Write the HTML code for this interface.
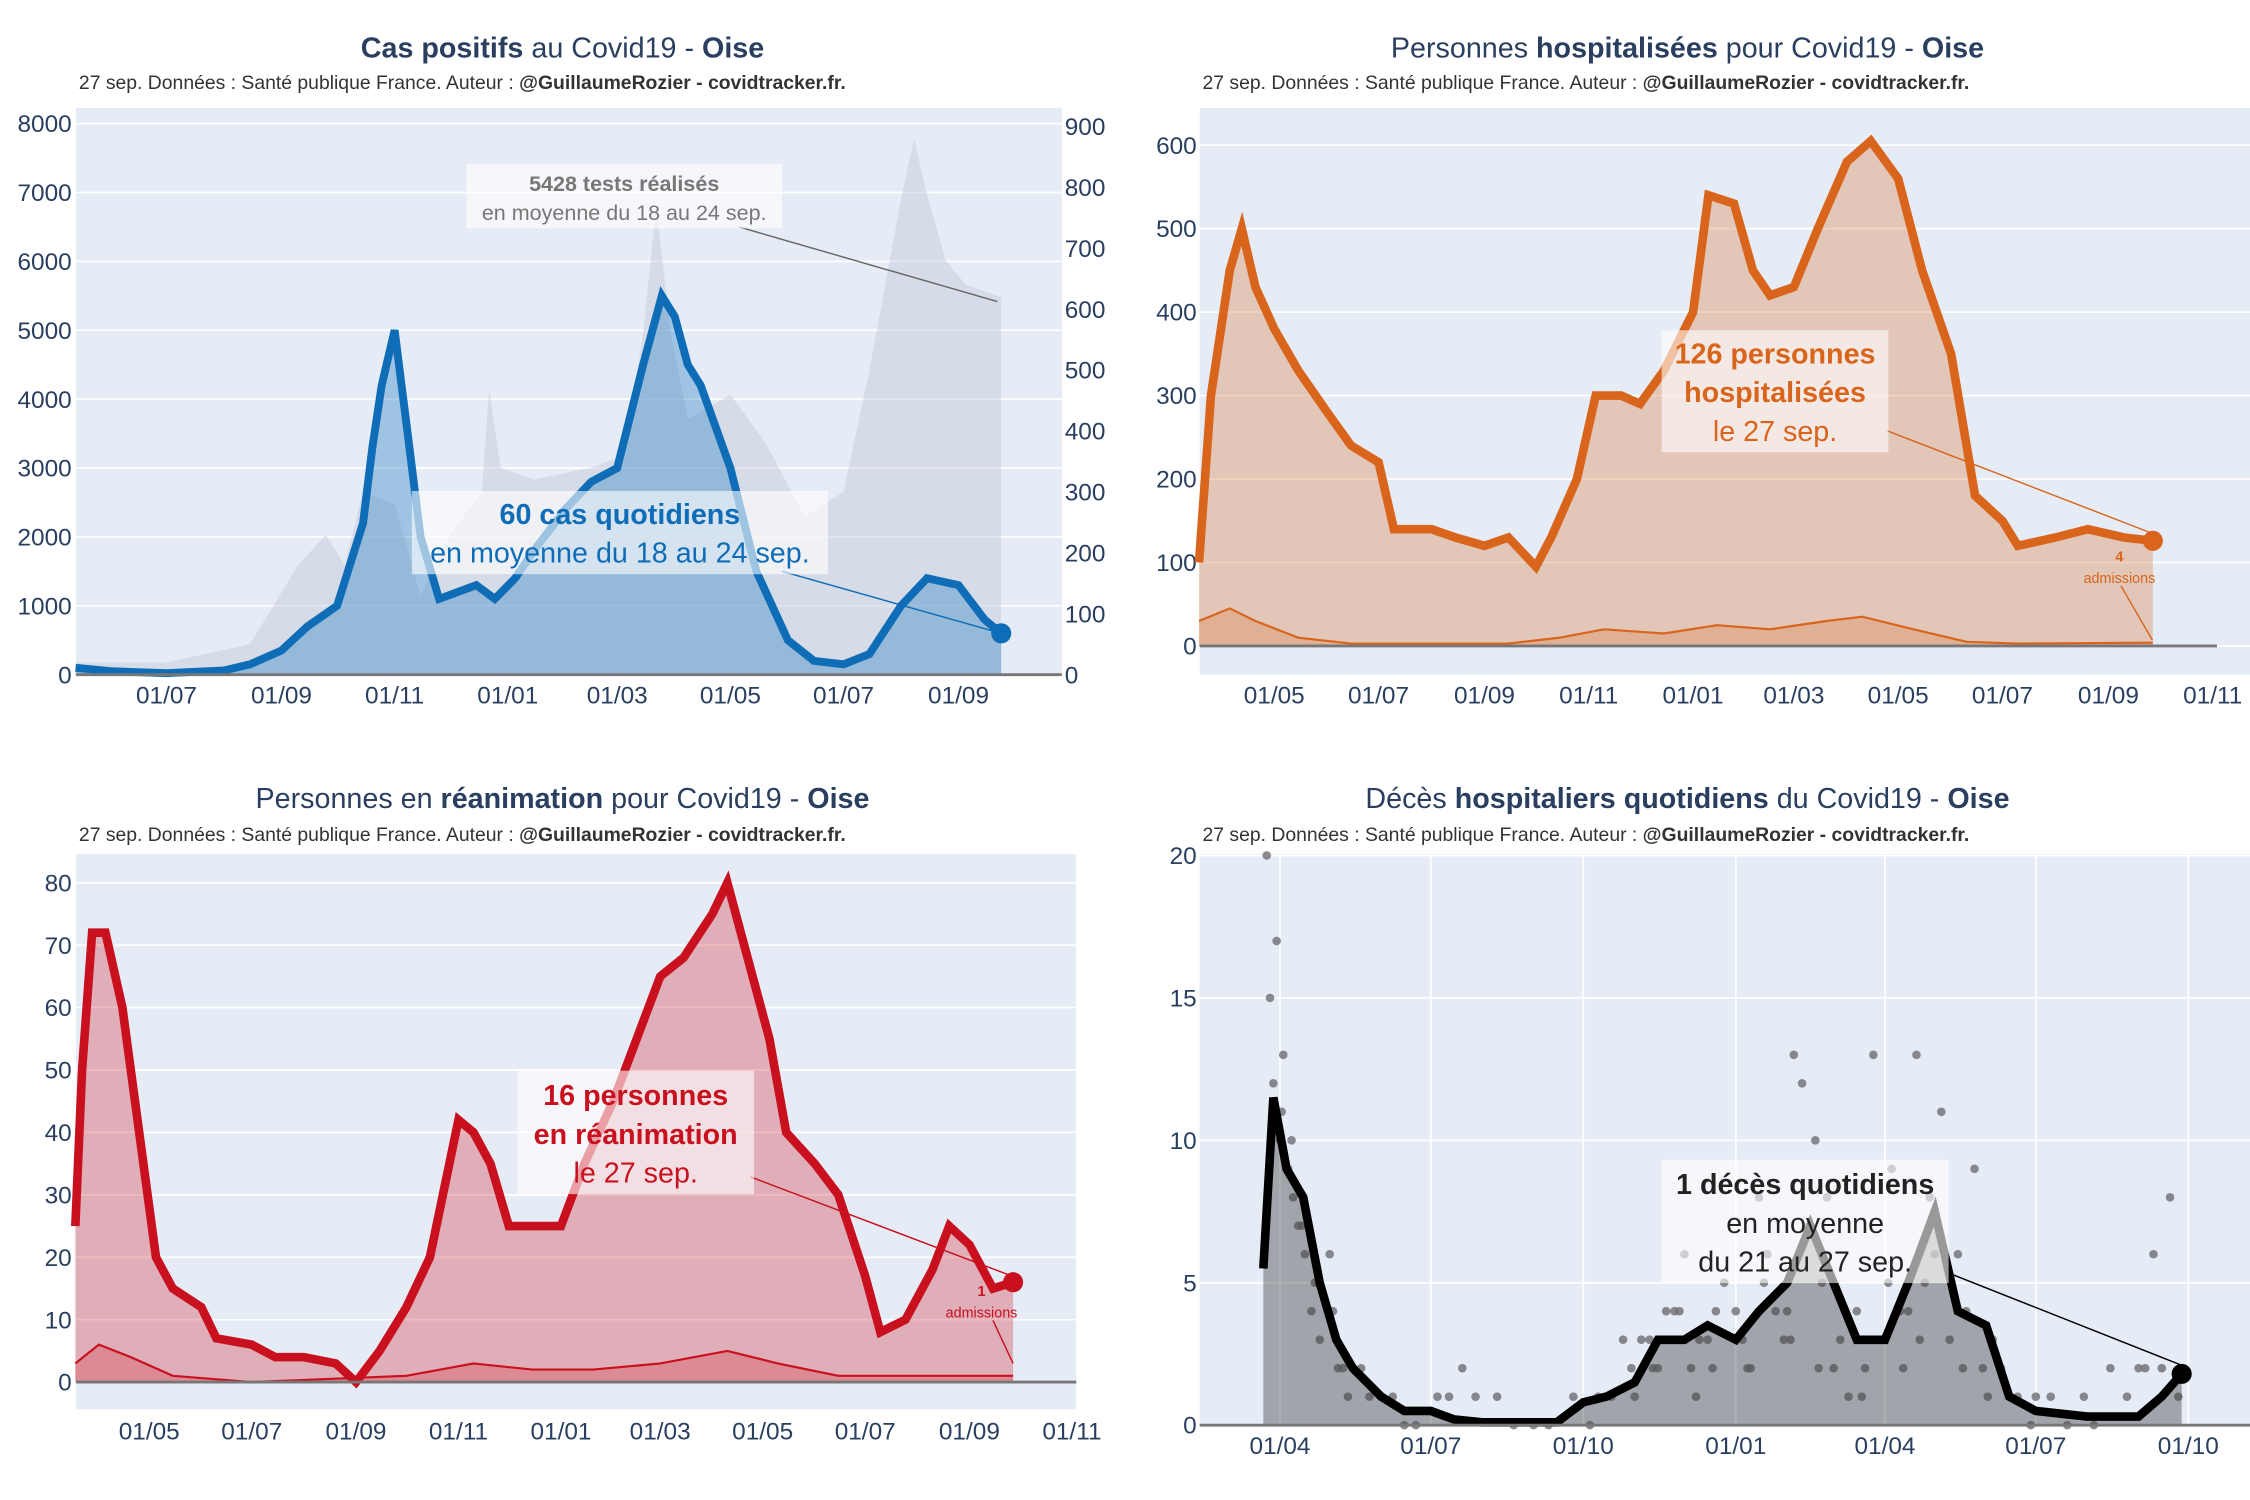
<!DOCTYPE html>
<html><head><meta charset="utf-8"><style>
html,body{margin:0;padding:0;background:#fff;}
svg{display:block;font-family:"Liberation Sans",sans-serif;}
</style></head><body>
<svg id="s" width="2250" height="1500" viewBox="0 0 1568 1045" xmlns="http://www.w3.org/2000/svg"></svg>
<script>
// ---------- DATA ----------
// Chart 1: cases (7-day avg) and tests
const casesDates=['2020-05-13','2020-06-01','2020-07-01','2020-08-01','2020-08-15','2020-09-01','2020-09-15','2020-10-01','2020-10-15','2020-10-20','2020-10-25','2020-11-01','2020-11-08','2020-11-15','2020-11-25','2020-12-05','2020-12-15','2020-12-25','2021-01-05','2021-01-15','2021-02-01','2021-02-15','2021-03-01','2021-03-15','2021-03-25','2021-04-01','2021-04-08','2021-04-15','2021-05-01','2021-05-15','2021-06-01','2021-06-15','2021-07-01','2021-07-15','2021-08-01','2021-08-15','2021-09-01','2021-09-15','2021-09-24'];
const casesValues=[100,50,20,60,150,350,700,1000,2200,3300,4200,5000,3500,2000,1100,1200,1300,1100,1400,1800,2400,2800,3000,4500,5500,5200,4500,4200,3000,1500,500,200,150,300,1000,1400,1300,800,600];
const testsDates=['2020-05-13','2020-07-01','2020-08-15','2020-09-10','2020-09-25','2020-10-05','2020-10-15','2020-11-01','2020-11-15','2020-12-01','2020-12-18','2020-12-22','2020-12-28','2021-01-15','2021-02-15','2021-03-05','2021-03-15','2021-03-22','2021-03-30','2021-04-08','2021-05-01','2021-05-20','2021-06-10','2021-07-01','2021-07-15','2021-08-01','2021-08-08','2021-08-14','2021-08-25','2021-09-05','2021-09-24'];
const testsValues=[20,20,50,180,230,180,300,280,130,230,300,470,340,320,340,360,560,770,560,420,460,380,260,300,500,780,880,800,680,640,620];
const c1LeftTicks=[0,1000,2000,3000,4000,5000,6000,7000,8000];
const c1RightTicks=[0,100,200,300,400,500,600,700,800,900];
const c1XTicks=['2020-07-01','2020-09-01','2020-11-01','2021-01-01','2021-03-01','2021-05-01','2021-07-01','2021-09-01'];
// Chart 2: hospitalisations
const hospDates=['2020-03-18','2020-03-25','2020-04-05','2020-04-12','2020-04-20','2020-05-01','2020-05-15','2020-06-01','2020-06-15','2020-07-01','2020-07-10','2020-08-01','2020-08-15','2020-09-01','2020-09-15','2020-10-01','2020-10-10','2020-10-25','2020-11-05','2020-11-20','2020-12-01','2020-12-15','2021-01-01','2021-01-10','2021-01-25','2021-02-05','2021-02-15','2021-03-01','2021-03-15','2021-04-01','2021-04-15','2021-05-01','2021-05-15','2021-06-01','2021-06-15','2021-07-01','2021-07-10','2021-08-01','2021-08-20','2021-09-10','2021-09-27'];
const hospValues=[100,300,450,500,430,380,330,280,240,220,140,140,130,120,130,95,130,200,300,300,290,330,400,540,530,450,420,430,500,580,605,560,450,350,180,150,120,130,140,130,126];
const hospAdmDates=['2020-03-18','2020-04-05','2020-04-20','2020-05-15','2020-06-15','2020-09-15','2020-10-15','2020-11-10','2020-12-15','2021-01-15','2021-02-15','2021-03-20','2021-04-10','2021-05-10','2021-06-10','2021-07-10','2021-09-27'];
const hospAdmValues=[30,45,30,10,3,3,10,20,15,25,20,30,35,20,5,3,4];
const c2YTicks=[0,100,200,300,400,500,600];
const c2XTicks=['2020-05-01','2020-07-01','2020-09-01','2020-11-01','2021-01-01','2021-03-01','2021-05-01','2021-07-01','2021-09-01','2021-11-01'];
// Chart 3: ICU
const reaDates=['2020-03-18','2020-03-22','2020-03-28','2020-04-05','2020-04-15','2020-04-25','2020-05-05','2020-05-15','2020-06-01','2020-06-10','2020-07-01','2020-07-15','2020-08-01','2020-08-20','2020-09-01','2020-09-15','2020-10-01','2020-10-15','2020-11-01','2020-11-10','2020-11-20','2020-12-01','2020-12-15','2021-01-01','2021-01-15','2021-02-01','2021-02-15','2021-03-01','2021-03-15','2021-04-01','2021-04-10','2021-04-20','2021-05-05','2021-05-15','2021-06-01','2021-06-15','2021-07-01','2021-07-10','2021-07-25','2021-08-10','2021-08-20','2021-09-01','2021-09-15','2021-09-27'];
const reaValues=[25,50,72,72,60,40,20,15,12,7,6,4,4,3,0,5,12,20,42,40,35,25,25,25,35,45,55,65,68,75,80,70,55,40,35,30,17,8,10,18,25,22,15,16];
const reaAdmDates=['2020-03-18','2020-04-01','2020-04-20','2020-05-15','2020-07-01','2020-10-01','2020-11-10','2020-12-15','2021-01-20','2021-03-01','2021-04-10','2021-05-10','2021-06-15','2021-08-20','2021-09-27'];
const reaAdmValues=[3,6,4,1,0,1,3,2,2,3,5,3,1,1,1];
const c3YTicks=[0,10,20,30,40,50,60,70,80];
const c3XTicks=['2020-05-01','2020-07-01','2020-09-01','2020-11-01','2021-01-01','2021-03-01','2021-05-01','2021-07-01','2021-09-01','2021-11-01'];
// Chart 4: deaths
const dcDates=['2020-03-22','2020-03-28','2020-04-05','2020-04-15','2020-04-25','2020-05-05','2020-05-15','2020-06-01','2020-06-15','2020-07-01','2020-07-15','2020-08-01','2020-09-15','2020-10-01','2020-10-15','2020-11-01','2020-11-15','2020-12-01','2020-12-15','2021-01-01','2021-01-15','2021-02-01','2021-02-15','2021-03-01','2021-03-15','2021-04-01','2021-04-15','2021-05-01','2021-05-15','2021-06-01','2021-06-15','2021-07-01','2021-08-01','2021-09-01','2021-09-15','2021-09-27'];
const dcValues=[5.5,11.5,9,8,5,3,2,1,0.5,0.5,0.2,0.1,0.1,0.8,1,1.5,3,3,3.5,3,4,5,7,5,3,3,5,7.5,4,3.5,1,0.5,0.3,0.3,1,1.8];
const dailyDates=['2020-03-24','2020-03-26','2020-03-28','2020-03-30','2020-04-01','2020-04-03','2020-04-06','2020-04-09','2020-04-12','2020-04-16','2020-04-20','2020-04-25','2020-05-01','2020-05-06','2020-05-12','2020-05-20','2020-06-01','2020-06-15','2020-07-05','2020-07-20','2020-08-10','2020-09-01','2020-10-10','2020-10-25','2020-11-10','2020-11-20','2020-12-01','2020-12-10','2020-12-20','2021-01-05','2021-01-15','2021-01-25','2021-02-05','2021-02-10','2021-02-18','2021-02-25','2021-03-05','2021-03-15','2021-03-25','2021-04-05','2021-04-15','2021-04-20','2021-04-28','2021-05-05','2021-05-15','2021-05-25','2021-06-05','2021-06-15','2021-07-01','2021-07-20','2021-08-15','2021-09-01','2021-09-10','2021-09-20',
'2020-04-02','2020-04-08','2020-04-14','2020-04-22','2020-05-03','2020-05-09','2020-05-25','2020-06-08','2020-06-22','2020-07-12','2020-07-28','2020-08-20','2020-09-10','2020-09-25','2020-10-05','2020-10-18','2020-10-30','2020-11-05','2020-11-15','2020-11-25','2020-12-05','2020-12-15','2020-12-25','2021-01-01','2021-01-10','2021-01-20','2021-01-30','2021-02-01','2021-02-14','2021-02-22','2021-03-01','2021-03-10','2021-03-20','2021-03-30','2021-04-10','2021-04-25','2021-05-01','2021-05-10','2021-05-20','2021-05-30','2021-06-10','2021-06-20','2021-06-28','2021-07-10','2021-07-30','2021-08-05','2021-08-25','2021-09-05','2021-09-15','2021-09-25',
'2020-11-01','2020-11-12','2020-11-28','2020-12-08','2020-12-18','2021-01-08','2021-01-18','2021-02-03','2021-02-20','2021-03-08','2021-03-18','2021-04-03','2021-04-12','2021-04-22','2021-05-18','2021-06-02'];
const dailyValues=[20,15,12,17,10,13,9,8,7,6,4,3,6,2,1,2,1,0,1,2,1,0,1,3,3,4,6,3,4,3,8,4,13,12,10,8,3,4,13,9,4,13,8,11,6,9,3,1,1,0,2,2,6,8,
11,10,7,5,4,2,1,1,0,1,1,0,0,1,0,1,2,3,2,4,2,3,5,4,2,6,3,4,7,5,2,1,2,3,4,5,6,3,4,2,2,1,0,1,1,0,1,2,2,1,
1,2,4,1,2,2,5,3,2,4,1,5,2,3,2,1];
const c4YTicks=[0,5,10,15,20];
const c4XTicks=['2020-04-01','2020-07-01','2020-10-01','2021-01-01','2021-04-01','2021-07-01','2021-10-01'];

// ---------- HELPERS ----------
const NS='http://www.w3.org/2000/svg';
const svg=document.getElementById('s');
function el(tag,attrs,parent,text){const e=document.createElementNS(NS,tag);for(const k in attrs)e.setAttribute(k,attrs[k]);if(text!==undefined)e.textContent=text;(parent||svg).appendChild(e);return e;}
function day(s){return Date.UTC(+s.slice(0,4),+s.slice(5,7)-1,+s.slice(8,10))/86400000;}
function fmt(s){return s.slice(8,10)+'/'+s.slice(5,7);}
function mkX(refDate,refPx,ppd){return d=>refPx+(day(d)-day(refDate))*ppd;}
function mkY(y0px,yTopPx,topVal){return v=>y0px-(v/topVal)*(y0px-yTopPx);}
function pathD(dates,vals,X,Y){return dates.map((d,i)=>(i?'L':'M')+X(d).toFixed(1)+','+Y(vals[i]).toFixed(1)).join('');}
function area(dates,vals,X,Y,fill,name){
  const d=pathD(dates,vals,X,Y)+'L'+X(dates[dates.length-1]).toFixed(1)+','+Y(0)+'L'+X(dates[0]).toFixed(1)+','+Y(0)+'Z';
  const p=el('path',{d:d,fill:fill,stroke:'none'});
  
  
  return p;
}
function line(dates,vals,X,Y,color,w,name){
  const p=el('path',{d:pathD(dates,vals,X,Y),fill:'none',stroke:color,'stroke-width':w,'stroke-linejoin':'miter'});
  
  
  return p;
}
function title(x,y,parts,name){
  const t=el('text',{x:x,y:y,'text-anchor':'middle','font-size':20,fill:'#2a3f5f'});
  
  
  parts.forEach(p=>el('tspan',p[1]?{'font-weight':'bold'}:{},t,p[0]));
}
function subtitle(x,y,name){
  const t=el('text',{x:x,y:y,'font-size':13.5,fill:'#333'});
  
  
  el('tspan',{},t,'27 sep. Données : Santé publique France. Auteur : ');
  el('tspan',{'font-weight':'bold'},t,'@GuillaumeRozier - covidtracker.fr.');
}
function frame(x0,y0,x1,y1,name){
  const r=el('rect',{x:x0,y:y0,width:x1-x0,height:y1-y0,fill:'#e5ecf6'});
  
  
}
function yTicks(ticks,Y,x0,x1,labelX,anchor,name,grid){
  ticks.forEach(v=>{
    if(grid) el('line',{x1:x0,x2:x1,y1:Y(v),y2:Y(v),stroke:'#fff','stroke-width':1.2});
    const t=el('text',{x:labelX,y:Y(v)+6,'text-anchor':anchor,'font-size':17,fill:'#2a3f5f'},svg,String(v));
    
    
  });
}
function xTicks(ticks,X,y0,y1,labelY,name,grid){
  ticks.forEach(d=>{
    if(grid) el('line',{x1:X(d),x2:X(d),y1:y0,y2:y1,stroke:'#fff','stroke-width':1.2});
    const t=el('text',{x:X(d),y:labelY,'text-anchor':'middle','font-size':17,fill:'#2a3f5f'},svg,fmt(d));
    
    
  });
}
function annot(x,y,w,h,lines,color,name){
  const g=el('g',{});
  
  
  el('rect',{x:x-w/2,y:y,width:w,height:h,fill:'rgba(255,255,255,0.6)'},g);
  lines.forEach((l,i)=>el('text',{x:x,y:y+l[2],'text-anchor':'middle','font-size':l[3],'font-weight':l[1]?'bold':'normal',fill:color},g,l[0]));
}
function dot(cx,cy,r,color,name){
  const c=el('circle',{cx:cx,cy:cy,r:r,fill:color});
  
  
}

// ---------- CHART 1 ----------
(function(){
  title(392,40,[['Cas positifs',1],[' au Covid19 - ',0],['Oise',1]],'cases-title');
  subtitle(55,62,'cases-subtitle');
  frame(53,75,740,470,'cases-plot-area');
  const X=mkX('2020-07-01',116,552/427);
  const Y=mkY(470,86,8000), YR=mkY(470,88,900);
  yTicks(c1LeftTicks,Y,53,740,50,'end','cases-y-tick',true);
  yTicks(c1RightTicks,YR,53,740,742,'start','tests-y-tick',false);
  xTicks(c1XTicks,X,75,470,490,'cases-x-tick',false);
  area(testsDates,testsValues,X,YR,'rgba(200,203,215,0.5)','tests-area');
  area(casesDates,casesValues,X,Y,'rgba(30,120,190,0.35)','cases-area');
  line(casesDates,casesValues,X,Y,'#0f6cb6',5.5,'cases-line');
  el('line',{x1:53,x2:740,y1:470,y2:470,stroke:'#777','stroke-width':2});
  const lx=X(casesDates[casesDates.length-1]), ly=Y(casesValues[casesValues.length-1]);
  dot(lx,ly,7,'#0f6cb6','cases-last-point');
  el('line',{x1:515,y1:158,x2:695,y2:210,stroke:'#666','stroke-width':1});
  el('line',{x1:545,y1:398,x2:lx,y2:ly,stroke:'#0f6cb6','stroke-width':1});
  annot(435,114,220,45,[['5428 tests réalisés',1,19,15],['en moyenne du 18 au 24 sep.',0,39,15]],'#777','tests-annotation');
  annot(432,342,290,58,[['60 cas quotidiens',1,23,20],['en moyenne du 18 au 24 sep.',0,50,20]],'#0f6cb6','cases-annotation');
})();

// ---------- CHART 2 ----------
(function(){
  title(1176,40,[['Personnes ',0],['hospitalisées',1],[' pour Covid19 - ',0],['Oise',1]],'hosp-title');
  subtitle(838,62,'hosp-subtitle');
  frame(836,75,1568,470,'hosp-plot-area');
  const X=mkX('2020-05-01',888,654/549);
  const Y=mkY(450,101,600);
  yTicks(c2YTicks,Y,836,1568,834,'end','hosp-y-tick',true);
  xTicks(c2XTicks,X,75,470,490,'hosp-x-tick',false);
  area(hospDates,hospValues,X,Y,'rgba(220,110,40,0.3)','hosp-area');
  area(hospAdmDates,hospAdmValues,X,Y,'rgba(220,110,40,0.25)','hosp-admissions-area');
  line(hospAdmDates,hospAdmValues,X,Y,'#d9641b',1.5,'hosp-admissions-line');
  line(hospDates,hospValues,X,Y,'#d9641b',6,'hosp-line');
  el('line',{x1:836,x2:1545,y1:450,y2:450,stroke:'#777','stroke-width':2});
  const lx=X(hospDates[hospDates.length-1]), ly=Y(hospValues[hospValues.length-1]);
  dot(lx,ly,7,'#d9641b','hosp-last-point');
  el('line',{x1:1315,y1:300,x2:lx,y2:ly-5,stroke:'#d9641b','stroke-width':1});
  el('line',{x1:1478,y1:408,x2:1500,y2:446,stroke:'#d9641b','stroke-width':1});
  annot(1237,230,158,85,[['126 personnes',1,23,20],['hospitalisées',1,50,20],['le 27 sep.',0,77,20]],'#d9641b','hosp-annotation');
  el('text',{x:1477,y:391,'text-anchor':'middle','font-size':10,'font-weight':'bold',fill:'#d9641b'},svg,'4');
  el('text',{x:1477,y:406,'text-anchor':'middle','font-size':10,fill:'#d9641b'},svg,'admissions');
})();

// ---------- CHART 3 ----------
(function(){
  title(392,563,[['Personnes en ',0],['réanimation',1],[' pour Covid19 - ',0],['Oise',1]],'icu-title');
  subtitle(55,586,'icu-subtitle');
  frame(53,595,750,982,'icu-plot-area');
  const X=mkX('2020-05-01',104,643/549);
  const Y=mkY(963,615,80);
  yTicks(c3YTicks,Y,53,750,50,'end','icu-y-tick',true);
  xTicks(c3XTicks,X,595,982,1003,'icu-x-tick',false);
  area(reaDates,reaValues,X,Y,'rgba(210,30,40,0.3)','icu-area');
  area(reaAdmDates,reaAdmValues,X,Y,'rgba(210,30,40,0.25)','icu-admissions-area');
  line(reaAdmDates,reaAdmValues,X,Y,'#c8101e',1.5,'icu-admissions-line');
  line(reaDates,reaValues,X,Y,'#c8101e',6,'icu-line');
  el('line',{x1:53,x2:750,y1:963,y2:963,stroke:'#777','stroke-width':2});
  const lx=X(reaDates[reaDates.length-1]), ly=Y(reaValues[reaValues.length-1]);
  dot(lx,ly,7,'#c8101e','icu-last-point');
  el('line',{x1:523,y1:820,x2:lx,y2:ly-4,stroke:'#c8101e','stroke-width':1});
  el('line',{x1:692,y1:920,x2:706,y2:950,stroke:'#c8101e','stroke-width':1});
  annot(443,746,165,86,[['16 personnes',1,24,20],['en réanimation',1,51,20],['le 27 sep.',0,78,20]],'#c8101e','icu-annotation');
  el('text',{x:684,y:903,'text-anchor':'middle','font-size':10,'font-weight':'bold',fill:'#c8101e'},svg,'1');
  el('text',{x:684,y:918,'text-anchor':'middle','font-size':10,fill:'#c8101e'},svg,'admissions');
})();

// ---------- CHART 4 ----------
(function(){
  title(1176,563,[['Décès ',0],['hospitaliers quotidiens',1],[' du Covid19 - ',0],['Oise',1]],'deaths-title');
  subtitle(838,586,'deaths-subtitle');
  frame(836,595,1568,993,'deaths-plot-area');
  const X=mkX('2020-04-01',892,633/548);
  const Y=mkY(993,596,20);
  yTicks(c4YTicks,Y,836,1568,834,'end','deaths-y-tick',true);
  xTicks(c4XTicks,X,595,993,1013,'deaths-x-tick',true);
  dailyDates.forEach((d,i)=>{dot(X(d),Y(dailyValues[i]),3,'rgba(110,110,115,0.8)','daily-death-dot');});
  area(dcDates,dcValues,X,Y,'rgba(60,60,60,0.4)','deaths-area');
  line(dcDates,dcValues,X,Y,'#000',6,'deaths-line');
  el('line',{x1:836,x2:1568,y1:993,y2:993,stroke:'#777','stroke-width':2});
  const lx=X(dcDates[dcDates.length-1]), ly=Y(dcValues[dcValues.length-1]);
  dot(lx,ly,7,'#000','deaths-last-point');
  el('line',{x1:1358,y1:887,x2:lx,y2:ly-6,stroke:'#000','stroke-width':1});
  annot(1258,808,200,86,[['1 décès quotidiens',1,24,20],['en moyenne',0,51,20],['du 21 au 27 sep.',0,78,20]],'#222','deaths-annotation');
})();
</script>
</body></html>
